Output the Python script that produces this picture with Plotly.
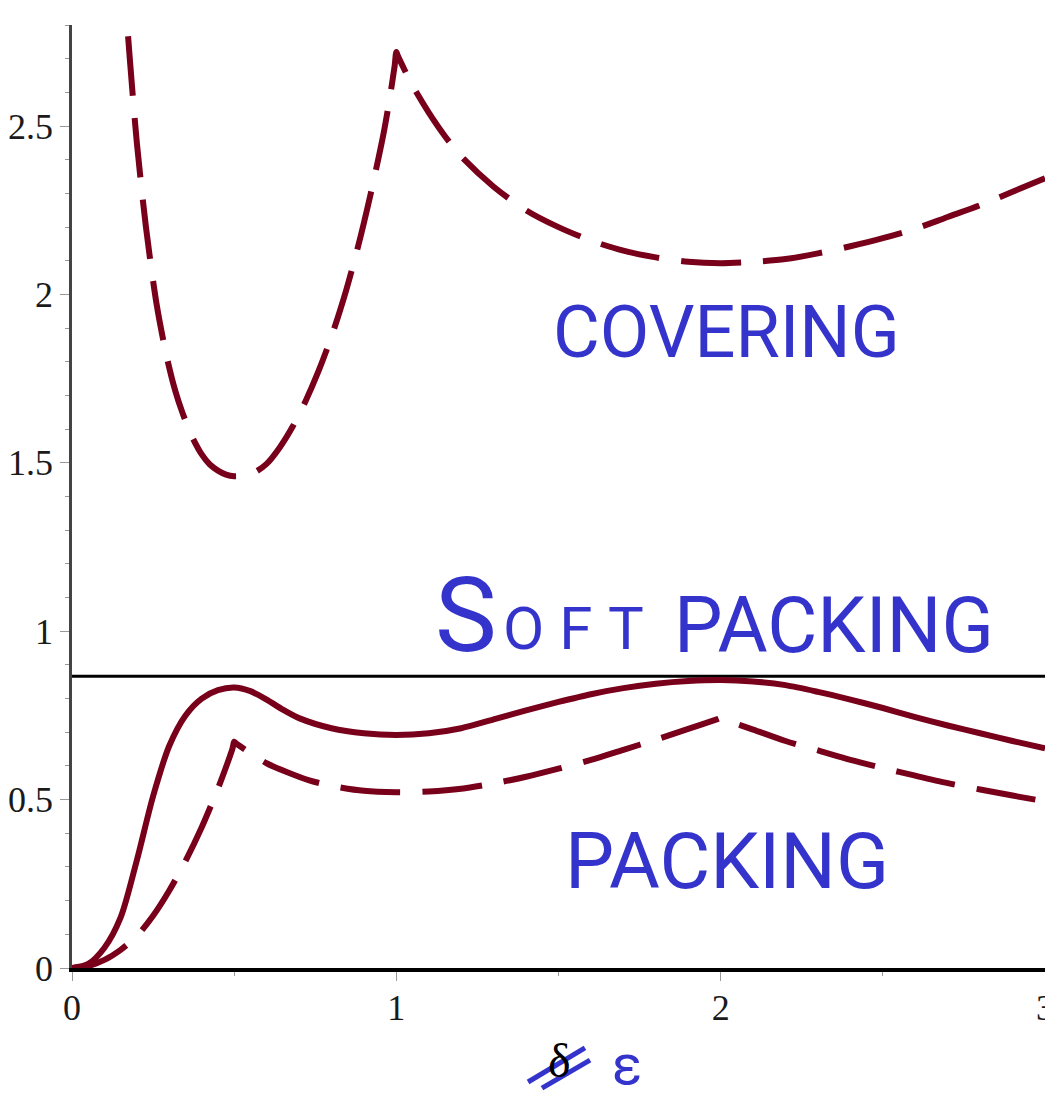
import plotly.graph_objects as go

# ---------------- data ----------------
# covering density (dashed, upper curve)
cov_x = [0.155, 0.165, 0.179, 0.200, 0.228, 0.261, 0.292, 0.318, 0.340, 0.370, 0.400, 0.425,
         0.450, 0.475, 0.500, 0.530, 0.560, 0.600, 0.640, 0.680, 0.720, 0.760, 0.800, 0.840,
         0.880, 0.920, 0.960, 0.980, 0.995, 1.000, 1.005, 1.050, 1.100, 1.150, 1.200, 1.300,
         1.400, 1.500, 1.600, 1.700, 1.800, 1.900, 2.000, 2.100, 2.200, 2.300, 2.400, 2.500,
         2.600, 2.700, 2.800, 2.900, 3.000]
cov_y = [3.010, 2.870, 2.690, 2.450, 2.200, 1.970, 1.815, 1.715, 1.650, 1.578, 1.525, 1.495,
         1.477, 1.465, 1.460, 1.462, 1.470, 1.497, 1.545, 1.607, 1.683, 1.772, 1.875, 1.995,
         2.135, 2.295, 2.475, 2.585, 2.680, 2.720, 2.708, 2.620, 2.540, 2.470, 2.410, 2.320,
         2.250, 2.200, 2.160, 2.130, 2.110, 2.097, 2.093, 2.097, 2.105, 2.122, 2.143, 2.167,
         2.195, 2.230, 2.265, 2.305, 2.345]

# soft packing density (solid)
soft_x = [0.000, 0.050, 0.100, 0.150, 0.200, 0.250, 0.300, 0.350, 0.400, 0.450, 0.500, 0.550,
          0.600, 0.650, 0.700, 0.800, 0.900, 1.000, 1.100, 1.200, 1.300, 1.400, 1.500, 1.600,
          1.700, 1.800, 1.900, 2.000, 2.100, 2.200, 2.300, 2.400, 2.500, 2.600, 2.700, 2.800,
          2.900, 3.000]
soft_y = [0.000, 0.012, 0.060, 0.150, 0.320, 0.510, 0.660, 0.750, 0.800, 0.825, 0.833, 0.822,
          0.797, 0.767, 0.742, 0.712, 0.697, 0.692, 0.697, 0.712, 0.738, 0.765, 0.790, 0.813,
          0.831, 0.844, 0.852, 0.855, 0.851, 0.840, 0.820, 0.797, 0.772, 0.745, 0.720, 0.697,
          0.674, 0.652]

# packing density (dashed, lower curve)
pack_x = [0.000, 0.050, 0.100, 0.150, 0.200, 0.250, 0.300, 0.350, 0.400, 0.450, 0.480, 0.495,
          0.500, 0.505, 0.550, 0.600, 0.662, 0.729, 0.800, 0.900, 1.000, 1.100, 1.200, 1.300,
          1.400, 1.500, 1.600, 1.700, 1.800, 1.900, 1.990, 2.000, 2.010, 2.100, 2.200, 2.300,
          2.400, 2.500, 2.600, 2.700, 2.800, 2.900, 3.000]
pack_y = [0.000, 0.006, 0.024, 0.054, 0.095, 0.155, 0.230, 0.318, 0.418, 0.533, 0.610, 0.652,
          0.672, 0.668, 0.638, 0.608, 0.582, 0.558, 0.541, 0.526, 0.522, 0.524, 0.532, 0.548,
          0.568, 0.592, 0.618, 0.648, 0.678, 0.710, 0.739, 0.742, 0.738, 0.708, 0.674, 0.646,
          0.618, 0.594, 0.571, 0.549, 0.530, 0.512, 0.495]

# soft packing reference level
level_x = [0.0, 3.0]
level_y = [0.866, 0.866]

y_tick_vals = [0, 0.5, 1, 1.5, 2, 2.5]
y_tick_text = ["0", "0.5", "1", "1.5", "2", "2.5"]
x_tick_vals = [0, 1, 2, 3]
x_tick_text = ["0", "1", "2", "3"]

# ---------------- styling ----------------
RED = "#78001A"
BLUE = "#3434CC"
DASH = "60px,22px"

fig = go.Figure()
fig.add_trace(go.Scatter(x=level_x, y=level_y, mode="lines",
                         line=dict(color="black", width=3), hoverinfo="skip"))
fig.add_trace(go.Scatter(x=cov_x, y=cov_y, mode="lines",
                         line=dict(color=RED, width=6, dash=DASH, shape="spline", smoothing=0.8)))
fig.add_trace(go.Scatter(x=soft_x, y=soft_y, mode="lines",
                         line=dict(color=RED, width=6, shape="spline", smoothing=0.8)))
fig.add_trace(go.Scatter(x=pack_x, y=pack_y, mode="lines",
                         line=dict(color=RED, width=6, dash=DASH, shape="spline", smoothing=0.8)))

tickfont = dict(family="Liberation Serif, Times New Roman, serif", size=36, color="#1a1a1a")

# the page body has an 8px margin, so margins are chosen to put the
# plot area at the same window position as the reference
fig.update_layout(
    width=1053, height=1097,
    margin=dict(l=64, r=16, t=17, b=137),
    paper_bgcolor="white", plot_bgcolor="white",
    showlegend=False,
    xaxis=dict(range=[0, 3], showgrid=False, zeroline=False, automargin=False,
               showline=True, linecolor="black", linewidth=4,
               tickmode="array", tickvals=x_tick_vals, ticktext=x_tick_text,
               ticks="outside", ticklen=9, tickcolor="#999", tickwidth=1,
               tickfont=tickfont, ticklabelstandoff=-4, ticklabeloverflow="allow",
               minor=dict(dtick=0.5, tick0=0, ticks="outside", ticklen=4, tickcolor="#999")),
    yaxis=dict(range=[0, 2.8001], showgrid=False, zeroline=False, automargin=False,
               showline=True, linecolor="#444", linewidth=2.5,
               tickmode="array", tickvals=y_tick_vals, ticktext=y_tick_text,
               ticks="outside", ticklen=9, tickcolor="#999", tickwidth=1,
               tickfont=tickfont, ticklabelstandoff=0, ticklabeloverflow="allow",
               minor=dict(dtick=0.1, tick0=0, ticks="outside", ticklen=4, tickcolor="#999")),
)

hand = "Roboto, Open Sans, sans-serif"
fig.add_annotation(x=2.017, y=1.886, xref="x", yref="y", text="COVERING", showarrow=False,
                   xanchor="center", yanchor="middle",
                   font=dict(family=hand, size=72, color=BLUE))
fig.add_annotation(x=2.018, y=0.317, xref="x", yref="y", text="PACKING", showarrow=False,
                   xanchor="center", yanchor="middle",
                   font=dict(family=hand, size=78, color=BLUE))
# "Soft PACKING" written as a tall S, small OFT and PACKING
fig.add_annotation(x=1.113, y=1.047, xref="x", yref="y", text="S", showarrow=False,
                   xanchor="left", yanchor="middle",
                   font=dict(family=hand, size=104, color=BLUE))
fig.add_annotation(x=1.322, y=1.007, xref="x", yref="y",
                   text="<span style='letter-spacing:15px'>OFT</span>", showarrow=False,
                   xanchor="left", yanchor="middle",
                   font=dict(family=hand, size=60, color=BLUE))
fig.add_annotation(x=1.850, y=1.016, xref="x", yref="y", text="PACKING", showarrow=False,
                   xanchor="left", yanchor="middle",
                   font=dict(family=hand, size=77, color=BLUE))

# x-axis label: struck-out delta replaced by epsilon
fig.add_annotation(x=0.5015, y=-0.0986, xref="paper", yref="paper", text="δ", showarrow=False,
                   xanchor="center", yanchor="middle", borderpad=0,
                   font=dict(family="Liberation Serif, serif", size=48, color="black"))
fig.add_annotation(x=0.5704, y=-0.1028, xref="paper", yref="paper", text="ε", showarrow=False,
                   xanchor="center", yanchor="middle", borderpad=0,
                   font=dict(family=hand, size=56, color=BLUE))
fig.add_shape(type="line", xref="paper", yref="paper", x0=0.4687, y0=-0.1209, x1=0.5272, y1=-0.0848,
              line=dict(color=BLUE, width=5))
fig.add_shape(type="line", xref="paper", yref="paper", x0=0.4830, y0=-0.1273, x1=0.5324, y1=-0.0976,
              line=dict(color=BLUE, width=5))

fig.write_html("out.html")
